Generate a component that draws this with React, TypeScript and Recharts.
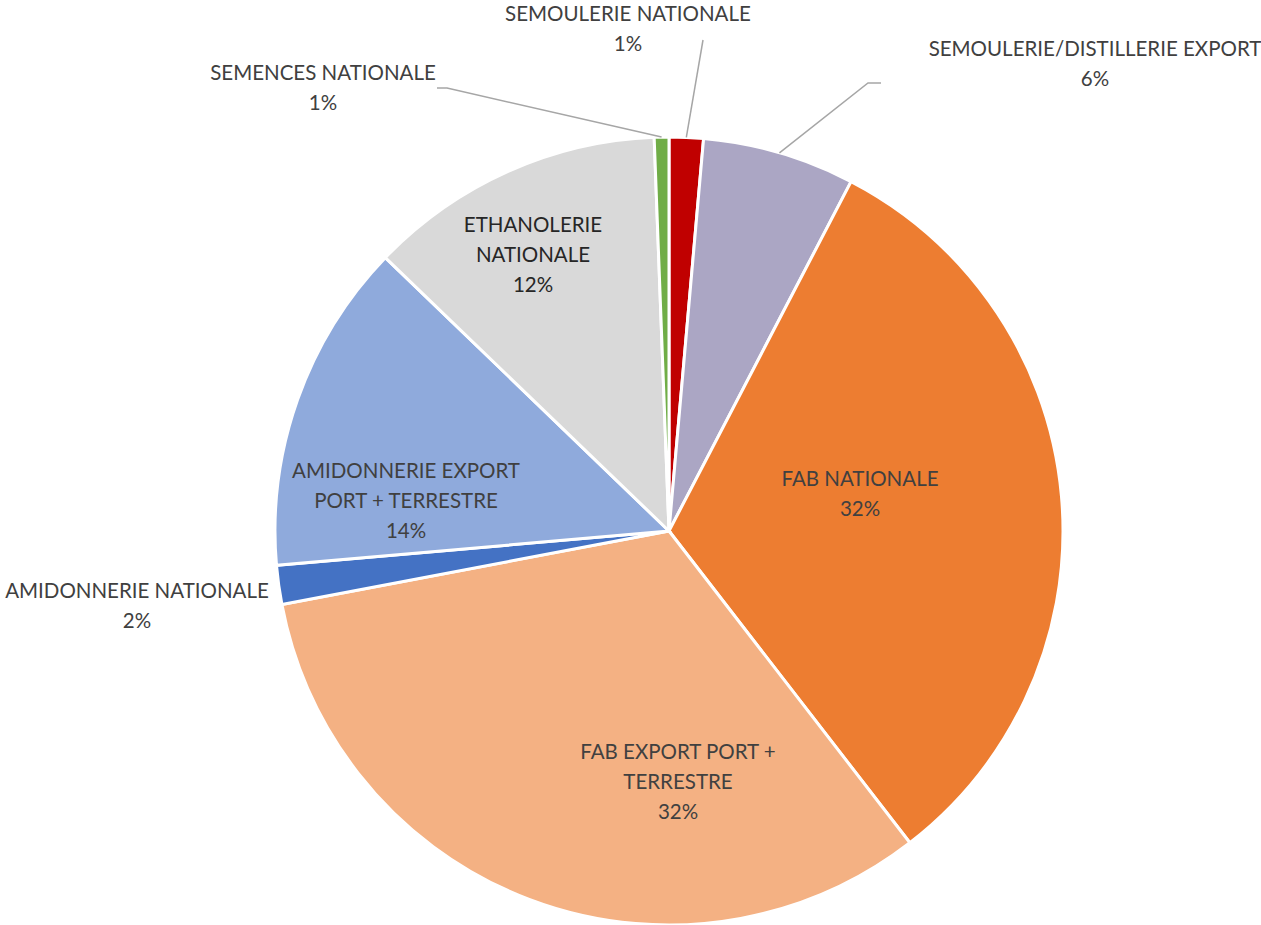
import React from 'react';
import { PieChart, Pie, Cell } from 'recharts';

const categories = [
  'SEMOULERIE NATIONALE',
  'SEMOULERIE/DISTILLERIE EXPORT',
  'FAB NATIONALE',
  'FAB EXPORT PORT + TERRESTRE',
  'AMIDONNERIE NATIONALE',
  'AMIDONNERIE EXPORT PORT + TERRESTRE',
  'ETHANOLERIE NATIONALE',
  'SEMENCES NATIONALE',
];

// shares (percent)
const shares = [1.4, 6.25, 31.9, 32.5, 1.6, 13.6, 12.2, 0.6];

const colors = [
  '#C00000',
  '#ABA6C4',
  '#ED7D31',
  '#F4B183',
  '#4472C4',
  '#8FAADC',
  '#D9D9D9',
  '#70AD47',
];

// label text lines as wrapped in the original
const labelLines = [
  ['SEMOULERIE NATIONALE'],
  ['SEMOULERIE/DISTILLERIE EXPORT'],
  ['FAB NATIONALE'],
  ['FAB EXPORT PORT +', 'TERRESTRE'],
  ['AMIDONNERIE NATIONALE'],
  ['AMIDONNERIE EXPORT', 'PORT + TERRESTRE'],
  ['ETHANOLERIE', 'NATIONALE'],
  ['SEMENCES NATIONALE'],
];

// label placement relative to the pie centre; leader = [end, elbow] of the callout line
type LabelPos = { dx: number; dy: number; color?: string; leader?: number[][] };
const labelPos: LabelPos[] = [
  { dx: -41, dy: -518, leader: [[34, -491]] },
  { dx: 426, dy: -483, leader: [[212, -448], [199, -448]] },
  { dx: 191, dy: -53 },
  { dx: 9, dy: 220 },
  { dx: -532, dy: 59 },
  { dx: -263, dy: -61 },
  { dx: -136, dy: -307, color: '#262626' },
  { dx: -346, dy: -459, leader: [[-232, -443], [-222, -443]] },
];

const data = categories.map((name, i) => ({ name, value: shares[i] }));

const RADIAN = Math.PI / 180;
const LINE_H = 30;

const renderLabel = (props: any) => {
  const { cx, cy, midAngle, outerRadius, percent, index } = props;
  const pos = labelPos[index];
  const lines = [...labelLines[index], `${Math.round(percent * 100)}%`];
  const x = cx + pos.dx;
  const y0 = cy + pos.dy;
  let leader = null;
  if (pos.leader) {
    const ex = cx + outerRadius * Math.cos(-midAngle * RADIAN);
    const ey = cy + outerRadius * Math.sin(-midAngle * RADIAN);
    const pts = [...pos.leader.map(([px, py]) => `${cx + px},${cy + py}`), `${ex},${ey}`];
    leader = <polyline points={pts.join(' ')} fill="none" stroke="#A6A6A6" strokeWidth={1.5} />;
  }
  return (
    <g key={`lbl-${index}`}>
      {leader}
      <text
        x={x}
        y={y0}
        textAnchor="middle"
        dominantBaseline="central"
        fill={pos.color || '#404040'}
        fontFamily="Lato, 'Open Sans', sans-serif"
        fontSize={20.5}
      >
        {lines.map((l, i) => (
          <tspan key={i} x={x} y={y0 + i * LINE_H}>
            {l}
          </tspan>
        ))}
      </text>
    </g>
  );
};

export default function App() {
  return (
    <div style={{ position: 'absolute', left: 0, top: 0, width: 1261, height: 925, background: '#fff' }}>
      <PieChart
        width={1261}
        height={925}
        margin={{ top: 0, right: 0, bottom: 0, left: 0 }}
        style={{ overflow: 'visible' }}
      >
        <Pie
          data={data}
          dataKey="value"
          nameKey="name"
          cx={669}
          cy={531}
          outerRadius={394}
          startAngle={90}
          endAngle={-270}
          stroke="#FFFFFF"
          strokeWidth={3}
          label={renderLabel}
          labelLine={false}
          isAnimationActive={false}
        >
          {data.map((d, i) => (
            <Cell key={d.name} fill={colors[i]} />
          ))}
        </Pie>
      </PieChart>
    </div>
  );
}
